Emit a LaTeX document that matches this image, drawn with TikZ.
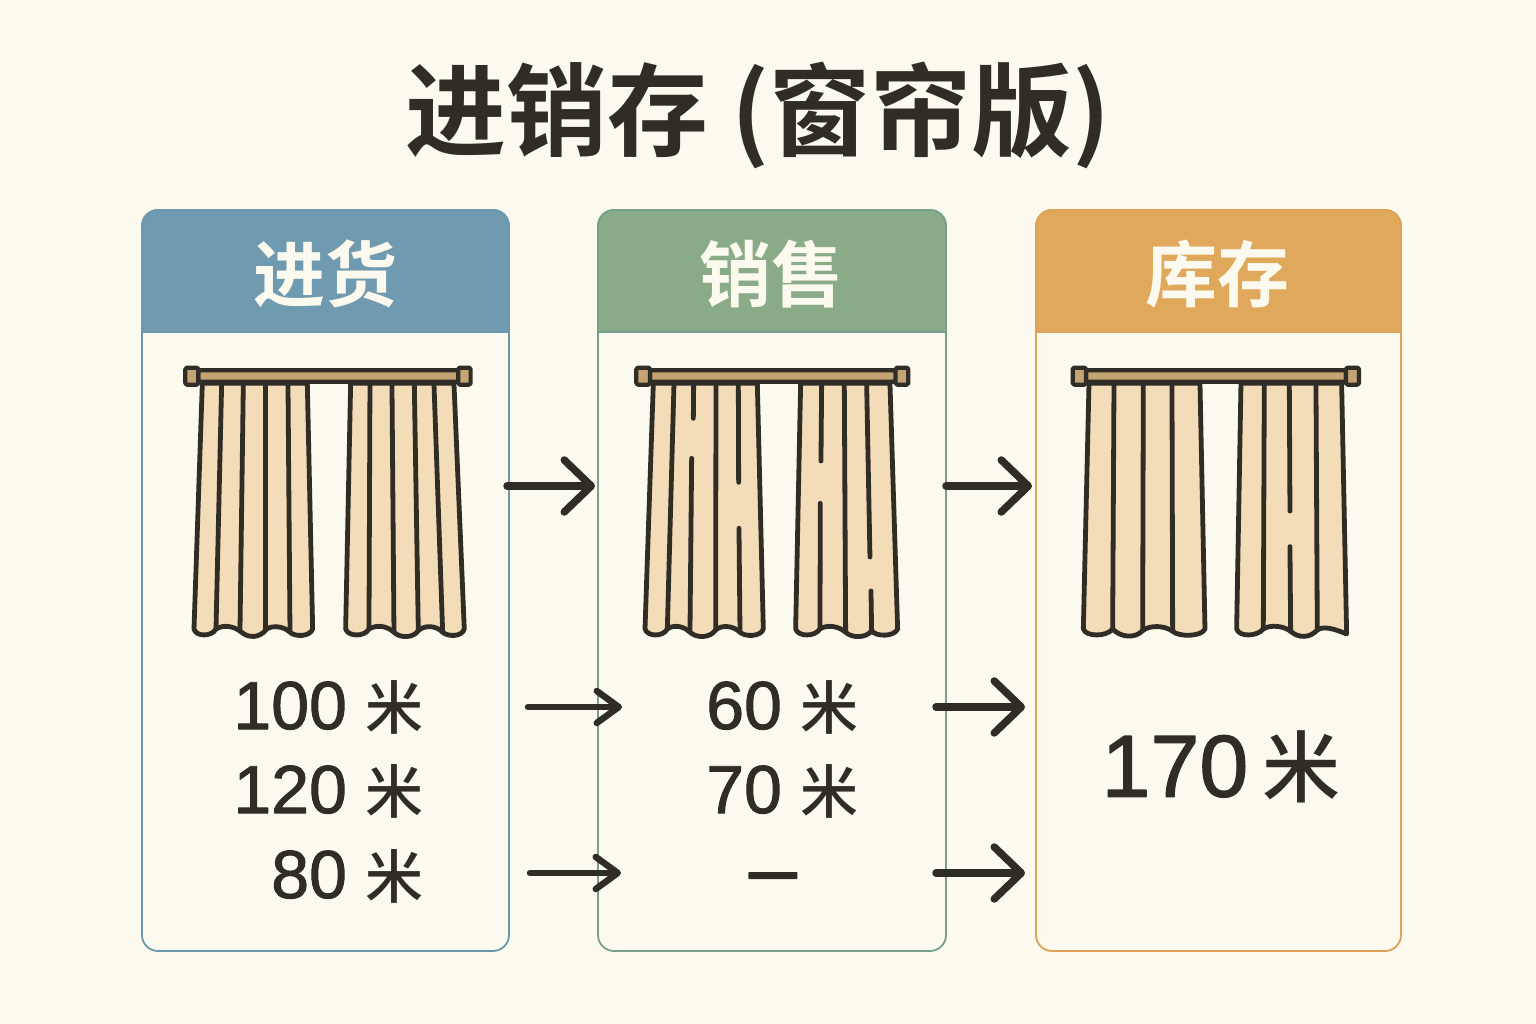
\documentclass[tikz,border=0pt]{standalone}
\usepackage{fontspec}
\setmainfont{Liberation Sans}
\newfontfamily\cjkfont{Noto Sans CJK SC}
\newfontfamily\cjkmedium{Noto Sans CJK SC Medium}
\newfontfamily\cjkbold{Noto Sans CJK SC Bold}
\newfontfamily\numfont[FakeBold=1.4]{Liberation Sans}
\usetikzlibrary{arrows.meta}
\definecolor{paperbg}{HTML}{FCF9EE}
\definecolor{inkcol}{HTML}{302C26}
\definecolor{clothcol}{HTML}{F3DDB8}
\definecolor{rodcol}{HTML}{C4A374}
\definecolor{bluecol}{HTML}{6F9AB0}
\definecolor{greencol}{HTML}{8AAB88}
\definecolor{orangecol}{HTML}{E0A85A}
\definecolor{blueedge}{HTML}{6A98AC}
\definecolor{greenedge}{HTML}{76A08A}
\definecolor{orangeedge}{HTML}{DDA256}
\tikzset{
  boxbody/.style={rectangle,rounded corners=16bp,line width=1.8bp,minimum height=741bp},
  headtext/.style={text=paperbg,font=\cjkbold\fontsize{72bp}{72bp}\selectfont},
  rowtext/.style={text=inkcol,anchor=east,inner sep=0pt,font=\numfont\fontsize{68bp}{68bp}\selectfont},
  curtain/.style={x=0.3333bp,y=-0.3333bp,line join=round},
  panel/.style={draw=inkcol,fill=clothcol,line width=4.8bp},
  fold/.style={draw=inkcol,line width=4.8bp,line cap=round},
  rodpart/.style={draw=inkcol,fill=rodcol,line width=4.2bp,rounded corners=1.5bp},
  bigarrow/.style={draw=inkcol,line width=7.5bp,line cap=round,-{Straight Barb[length=27bp,width=52bp,round]}},
  smallarrow/.style={draw=inkcol,line width=6.5bp,line cap=round,-{Straight Barb[length=22bp,width=32bp,round]}},
}
\newcommand{\curtainrod}[4]{%
  \draw[rodpart] (#2,46) rectangle (#3,80);
  \draw[rodpart] (#1+6,38) rectangle (#2,89);
  \draw[rodpart] (#3,38) rectangle (#4-6,89);
}
\newcommand{\smallmi}{{\cjkmedium\fontsize{58bp}{58bp}\selectfont 米}}
\newcommand{\bigmi}{{\cjkmedium\fontsize{78bp}{78bp}\selectfont 米}}
\begin{document}
\begin{tikzpicture}[>=latex,line join=bevel,]
  \useasboundingbox (0bp,0bp) rectangle (1536bp,1024bp);
  \fill[paperbg] (0bp,0bp) rectangle (1536bp,1024bp);
  % Node: title
  \node[text=inkcol,font=\cjkbold\fontsize{101bp}{101bp}\selectfont] (title) at (758bp,909bp) {进销存 (窗帘版)};
%%
% Node: purchase
\begin{scope}
  \node[boxbody,draw=blueedge,minimum width=367bp] (purchase) at (325.5bp,443.5bp) {};
  \draw[draw=blueedge,fill=bluecol,line width=1.8bp] (142bp,692bp) [rounded corners=16bp] -- (142bp,814bp) -- (509bp,814bp) [sharp corners] -- (509bp,692bp) -- cycle;
  \node[headtext] (purchasehead) at (325bp,750bp) {进货};
\end{scope}
  % Node: sales
\begin{scope}
  \node[boxbody,draw=greenedge,minimum width=348bp] (sales) at (772bp,443.5bp) {};
  \draw[draw=greenedge,fill=greencol,line width=1.8bp] (598bp,692bp) [rounded corners=16bp] -- (598bp,814bp) -- (946bp,814bp) [sharp corners] -- (946bp,692bp) -- cycle;
  \node[headtext] (saleshead) at (771bp,750bp) {销售};
\end{scope}
  % Node: stock
\begin{scope}
  \node[boxbody,draw=orangeedge,minimum width=365bp] (stock) at (1218.5bp,443.5bp) {};
  \draw[draw=orangeedge,fill=orangecol,line width=1.8bp] (1036bp,692bp) [rounded corners=16bp] -- (1036bp,814bp) -- (1401bp,814bp) [sharp corners] -- (1401bp,692bp) -- cycle;
  \node[headtext] (stockhead) at (1217bp,750bp) {库存};
\end{scope}
%%
  % Curtain: purchase
\begin{scope}[curtain,shift={(170bp,669bp)}]
  \draw[panel] (97,85) -- (72,822) .. controls (78,846) and (125,846) .. (138,822) .. controls (160,809) and (190,812) .. (215,832) .. controls (235,850) and (270,850) .. (290,822) .. controls (305,812) and (340,812) .. (360,832) .. controls (375,846) and (420,846) .. (428,822) -- (412,85) -- cycle;
  \draw[panel] (542,85) -- (527,822) .. controls (534,846) and (585,846) .. (597,822) .. controls (620,809) and (650,812) .. (672,832) .. controls (690,850) and (730,850) .. (745,827) .. controls (765,809) and (800,812) .. (818,832) .. controls (835,846) and (876,846) .. (883,822) -- (852,85) -- cycle;
  \draw[fold] (155,85) -- (138,822);
  \draw[fold] (220,85) -- (210,827);
  \draw[fold] (287,85) -- (287,822);
  \draw[fold] (354,85) -- (360,829);
  \draw[fold] (600,85) -- (597,822);
  \draw[fold] (666,85) -- (672,829);
  \draw[fold] (733,85) -- (745,825);
  \draw[fold] (792,85) -- (818,829);
  \curtainrod{40}{85}{865}{908}
\end{scope}
  % Curtain: sales
\begin{scope}[curtain,shift={(625bp,669bp)}]
  \draw[panel] (85,85) -- (60,822) .. controls (67,846) and (115,846) .. (127,822) .. controls (145,809) and (175,812) .. (195,832) .. controls (215,850) and (255,850) .. (272,825) .. controls (290,809) and (325,812) .. (345,832) .. controls (360,846) and (408,846) .. (415,822) -- (397,85) -- cycle;
  \draw[panel] (527,85) -- (512,822) .. controls (519,846) and (570,846) .. (585,822) .. controls (605,809) and (640,812) .. (662,832) .. controls (680,850) and (725,850) .. (740,827) .. controls (752,846) and (808,846) .. (818,822) -- (795,85) -- cycle;
  \draw[fold] (147,85) -- (127,822);
  \draw[fold] (206,85) -- (205,190);
  \draw[fold] (200,310) -- (195,827);
  \draw[fold] (273,85) -- (272,822);
  \draw[fold] (340,85) -- (341,382);
  \draw[fold] (342,520) -- (345,827);
  \draw[fold] (590,85) -- (588,318);
  \draw[fold] (586,445) -- (585,822);
  \draw[fold] (658,85) -- (662,829);
  \draw[fold] (725,85) -- (735,606);
  \draw[fold] (738,708) -- (740,827);
  \curtainrod{28}{75}{812}{856}
\end{scope}
  % Curtain: stock
\begin{scope}[curtain,shift={(1060bp,669bp)}]
  \draw[panel] (87,85) -- (70,822) .. controls (77,846) and (140,846) .. (158,822) .. controls (180,847) and (225,852) .. (248,827) .. controls (270,809) and (315,812) .. (338,829) .. controls (355,846) and (425,846) .. (435,822) -- (420,85) -- cycle;
  \draw[panel] (543,85) -- (530,822) .. controls (537,846) and (590,846) .. (610,822) .. controls (630,809) and (670,812) .. (692,829) .. controls (715,850) and (750,850) .. (772,825) .. controls (790,812) and (825,822) .. (860,837) -- (845,85) -- cycle;
  \draw[fold] (162,85) -- (158,822);
  \draw[fold] (250,85) -- (248,827);
  \draw[fold] (336,85) -- (338,829);
  \draw[fold] (613,85) -- (610,822);
  \draw[fold] (688,85) -- (690,468);
  \draw[fold] (690,575) -- (692,829);
  \draw[fold] (768,85) -- (772,825);
  \curtainrod{32}{78}{858}{903}
\end{scope}
%%
  % Node: rows
  \node[rowtext] (inone) at (424bp,317bp) {100 \smallmi};
  \node[rowtext] (intwo) at (424bp,233bp) {120 \smallmi};
  \node[rowtext] (inthree) at (424bp,148bp) {80 \smallmi};
  \node[rowtext] (outone) at (859bp,317bp) {60 \smallmi};
  \node[rowtext] (outtwo) at (859bp,233bp) {70 \smallmi};
  \node[text=inkcol,font=\numfont\fontsize{86bp}{86bp}\selectfont] (outthree) at (773bp,139bp) {–};
  \node[rowtext,font=\numfont\fontsize{88bp}{88bp}\selectfont] (left) at (1341bp,257bp) {170 \kern-10bp\bigmi};
  % Edge: top row
  \coordinate (a1) at (507bp,538bp);
  \coordinate (b1) at (595bp,538bp);
  \coordinate (c1) at (946bp,538bp);
  \coordinate (d1) at (1032bp,538bp);
  \draw[bigarrow] (a1) -- (b1);
  \draw[bigarrow] (c1) -- (d1);
  % Edge: middle row
  \coordinate (a2) at (528bp,317bp);
  \coordinate (b2) at (622bp,317bp);
  \coordinate (c2) at (936bp,317bp);
  \coordinate (d2) at (1025bp,317bp);
  \draw[smallarrow] (a2) -- (b2);
  \draw[bigarrow] (c2) -- (d2);
  % Edge: bottom row
  \coordinate (a3) at (530bp,151bp);
  \coordinate (b3) at (621bp,151bp);
  \coordinate (c3) at (936bp,151bp);
  \coordinate (d3) at (1025bp,151bp);
  \draw[smallarrow] (a3) -- (b3);
  \draw[bigarrow] (c3) -- (d3);
%
\end{tikzpicture}
\end{document}
